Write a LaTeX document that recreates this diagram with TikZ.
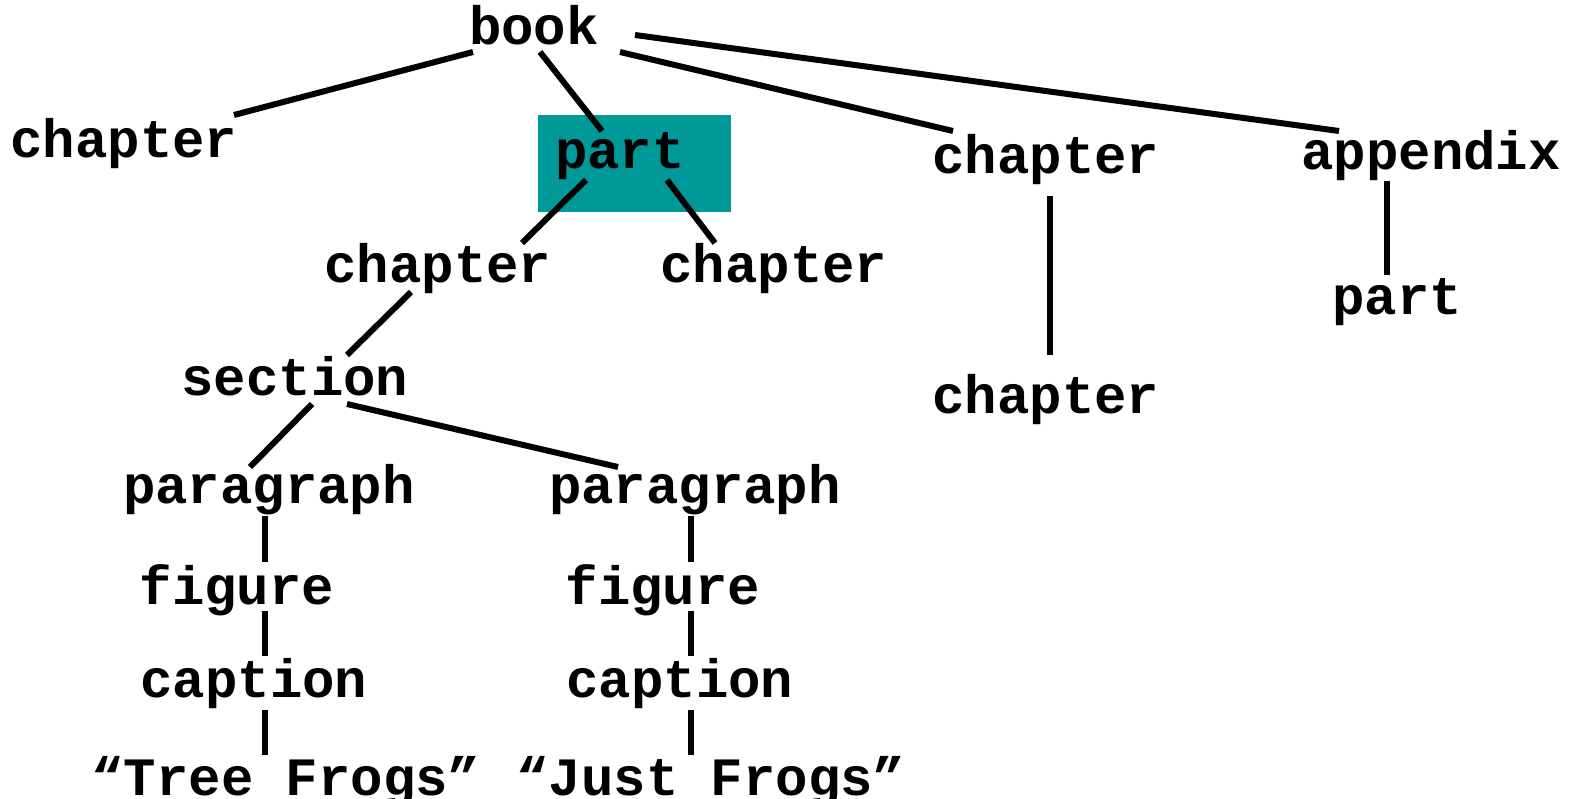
\documentclass[tikz,border=0pt]{standalone}
\usepackage{fontspec}
\setmonofont{Liberation Mono}
\usepackage{tikz}
\definecolor{partteal}{RGB}{0,153,153}

\begin{document}
\begin{tikzpicture}[x=1pt, y=-1pt, line width=6pt,
    font=\ttfamily\bfseries\fontsize{54}{60}\selectfont]
  \tikzset{elem/.style={anchor=base, inner sep=0pt}}
  \useasboundingbox (0,0) rectangle (1578,798);

  % ---- Highlight behind the part element ----
  \fill[partteal] (538,115) rectangle (731,212);

  % ---- Elements (placed on their baselines) ----
  \node[elem] (book)    at (534,44)  {book};
  \node[elem] (chapA)   at (124,157) {chapter};
  \node[elem] (part)    at (620,168) {part};
  \node[elem] (chapB)   at (1046,173) {chapter};
  \node[elem] (appx)    at (1431,169) {appendix};
  \node[elem] (chapC)   at (438,282) {chapter};
  \node[elem] (chapD)   at (774,282) {chapter};
  \node[elem] (appxpart) at (1397,314) {part};
  \node[elem] (chapE)   at (1046,413) {chapter};
  \node[elem] (sect)    at (295,395) {section};
  \node[elem] (paraL)   at (269,503) {paragraph};
  \node[elem] (paraR)   at (695,503) {paragraph};
  \node[elem] (figL)    at (237,604) {figure};
  \node[elem] (figR)    at (663,604) {figure};
  \node[elem] (capL)    at (254,697) {caption};
  \node[elem] (capR)    at (680,697) {caption};
  \node[elem] (titleL)  at (286,795) {“Tree Frogs”};
  \node[elem] (titleR)  at (711,795) {“Just Frogs”};

  % ---- Branches ----
  \draw ([shift={(-61,8)}]book.base) -- ([shift={(110,-42)}]chapA.base);
  \draw ([shift={(6,8)}]book.base) -- ([shift={(-18,-37)}]part.base);
  \draw ([shift={(86,8)}]book.base) -- ([shift={(-93,-42)}]chapB.base);
  \draw ([shift={(101,-9)}]book.base) -- ([shift={(-92,-38)}]appx.base);
  \draw ([shift={(-34,12)}]part.base) -- ([shift={(84,-39)}]chapC.base);
  \draw ([shift={(47,12)}]part.base) -- ([shift={(-59,-39)}]chapD.base);
  \draw ([shift={(4,23)}]chapB.base) -- ([shift={(4,-58)}]chapE.base);
  \draw ([shift={(-44,12)}]appx.base) -- ([shift={(-10,-39)}]appxpart.base);
  \draw ([shift={(-27,10)}]chapC.base) -- ([shift={(52,-40)}]sect.base);
  \draw ([shift={(17,9)}]sect.base) -- ([shift={(-19,-36)}]paraL.base);
  \draw ([shift={(52,9)}]sect.base) -- ([shift={(-77,-36)}]paraR.base);

  % ---- Straight chains down to the titles ----
  \draw ([shift={(-4,13)}]paraL.base) -- ([shift={(28,-42)}]figL.base);
  \draw ([shift={(28,7)}]figL.base) -- ([shift={(11,-41)}]capL.base);
  \draw ([shift={(11,13)}]capL.base) -- ([shift={(-21,-40)}]titleL.base);
  \draw ([shift={(-4,13)}]paraR.base) -- ([shift={(28,-42)}]figR.base);
  \draw ([shift={(28,7)}]figR.base) -- ([shift={(11,-41)}]capR.base);
  \draw ([shift={(11,13)}]capR.base) -- ([shift={(-20,-40)}]titleR.base);
\end{tikzpicture}
\end{document}
